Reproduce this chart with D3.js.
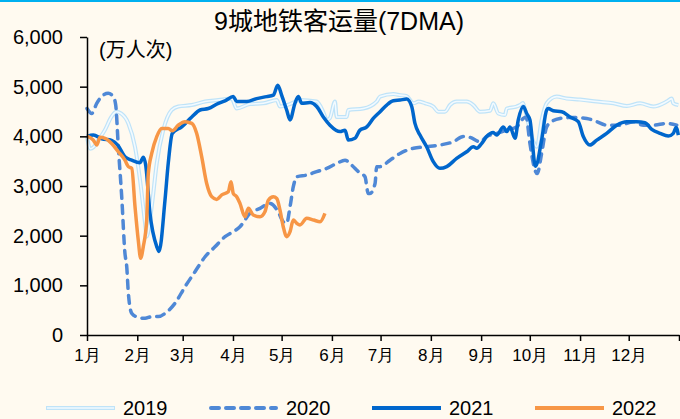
<!DOCTYPE html>
<html><head><meta charset="utf-8">
<script src="https://cdn.jsdelivr.net/npm/d3@7"></script>
<style>
html,body{margin:0;padding:0;background:#fffaf0;}
svg{display:block;font-family:"Liberation Sans",Arial,"Noto Sans CJK SC",sans-serif;}
</style></head>
<body><svg id="c" width="680" height="419"></svg>
<script>
// ---- data (day of year offset from Jan 1, value in 万人次) ----
const monthLabels = ["1月","2月","3月","4月","5月","6月","7月","8月","9月","10月","11月","12月"];
const monthStarts = [0,31,59,90,120,151,181,212,243,273,304,334,365];
const yTicks = [0,1000,2000,3000,4000,5000,6000];
const seriesNames = ["2019","2020","2021","2022"];

const days2019 = [0,2,4,7,11,15,18,21,25.5,29.6,32.7,35.8,36.8,39.9,43,47,52.2,56.3,64.6,72.8,81,89.2,92.3,100.5,108.7,117,119,125.2,131.3,141.6,145.7,147.8,149.8,152.9,153.9,160.1,161.1,170.4,178.6,180.7,188.9,193,197.1,201.3,204.4,208.4,213.5,216.6,220.7,223.8,227.9,234.1,238.2,242.3,248.5,250.5,253.6,257.7,258.8,264.9,267,268.8,270.1,275.2,277.3,280.3,283.4,289.6,295.7,304,314.3,324.5,332.8,341,349.2,357.4,360.5,361.5,364.6];
const vals2019 = [4000,3750,3780,3925,4125,4390,4495,4460,4260,3790,3120,2250,1980,2585,3455,4125,4530,4600,4630,4700,4730,4760,4560,4650,4665,4730,4600,4650,4730,4700,4490,4330,4370,4700,4390,4390,4530,4560,4700,4800,4850,4830,4810,4665,4700,4665,4600,4495,4495,4630,4700,4700,4630,4495,4515,4665,4460,4430,4560,4600,4630,4670,4530,3895,3790,4330,4665,4800,4760,4740,4700,4665,4610,4665,4600,4700,4760,4665,4630];

const days2020 = [0,2.9,6,10,13.1,16.2,17.7,19.3,21.4,23.4,24.5,25.5,27.6,31.6,35.8,39.9,44,48.1,54.3,60.4,66.6,72.8,78.9,85.1,90.2,94.3,100.5,106.7,112.8,117.9,121,123.1,125.2,127.2,129.3,135.5,141.6,147.8,154,159.1,163.2,167.3,171.4,173.4,174.5,177.6,178.6,180.7,186.8,193,201.3,209.4,217.6,225.8,232,236.1,242.3,246.4,252.6,258.8,264.9,269,270.7,273.1,276.2,277.6,280.3,283.4,286.5,291.6,299.8,308.1,314.3,320.4,328.6,336.8,343,349.2,357.4,363.6];
const vals2020 = [4560,4460,4665,4830,4865,4800,4630,3790,2785,1645,1375,840,435,355,335,370,370,435,640,970,1275,1575,1775,1980,2080,2180,2450,2550,2650,2480,2280,2250,2585,2985,3185,3220,3290,3355,3455,3520,3420,3290,3185,2850,2850,3050,3390,3390,3520,3655,3760,3790,3825,3890,3995,3980,3890,3995,4060,4125,4190,4360,4390,3855,3320,3250,3655,4190,4295,4360,4380,4360,4295,4225,4225,4295,4225,4225,4260,4225];

const days2021 = [0,3.9,9.1,15.2,19.1,23.4,27.6,32.7,34.7,36.2,38.8,43,44.4,48.1,50.1,52.6,58.4,64.6,69.7,74.8,81,85.1,90.2,92.3,98.5,104.6,110.8,114.9,117.6,120,123.1,125.2,128.2,130.3,132.4,137.5,141.6,145.7,149.8,156,159.1,161.1,165.2,168.3,172.5,176.5,180.7,184.8,188.9,193,197.1,200.2,202.2,205.3,209.4,213.5,217.6,221.8,227.9,234.1,238.2,240.3,243.4,246.4,250.5,252.6,256.7,258.8,260.8,263.9,265.9,269,271.1,273.1,276.5,280.3,283.4,284.4,287.5,292.7,297.8,302.9,306,310.1,314.3,320.4,326.6,332.8,338.9,344,348.2,353.3,358.4,361.5,363.2,364.6];
const vals2021 = [4000,4025,3950,3920,3820,3590,3520,3470,3580,3420,2455,1780,1680,2720,3460,4060,4190,4390,4530,4560,4665,4715,4800,4700,4700,4760,4800,4830,5030,4830,4530,4330,4665,4800,4665,4680,4600,4390,4225,4095,4125,3925,3960,4125,4190,4360,4495,4630,4715,4730,4750,4600,4260,4025,3790,3490,3355,3390,3555,3690,3790,3760,3860,3995,4075,4025,4190,4095,4190,3960,4330,4600,4460,4330,3400,3925,4530,4560,4515,4495,4390,4295,3995,3825,3925,4060,4225,4295,4295,4275,4140,4060,4005,4060,4180,4025];

const days2022 = [0,3.9,6,8,11.1,15.2,19.3,23.4,25.5,27.6,29.6,31.6,33.1,34.7,36.8,37.8,39.9,43,46.1,50.1,52.6,56.3,60.4,64.6,67.6,70.7,73.8,76.9,80,83.1,87.1,88.8,90.2,92.3,94.3,97.4,99.5,102.5,106.7,109.7,111.8,114.9,117,119,121,123.1,125.2,127.2,129.3,131.3,135.5,139.7,143.7,146.7];
const vals2022 = [4005,3925,3825,3980,3960,3855,3690,3520,3390,3355,2585,1910,1545,1780,2315,3250,3655,3995,4160,4160,4110,4225,4295,4260,4060,3590,3050,2785,2730,2820,2885,3085,2850,2785,2650,2380,2550,2415,2380,2480,2715,2785,2750,2515,2180,1980,2080,2315,2250,2215,2350,2315,2280,2450];

// ---- layout ----
const svg = d3.select("#c");
const W = 680, H = 419;
const m = {left:87, right:1, top:37, bottom:84};
const x = d3.scaleLinear().domain([0,365]).range([m.left, W - m.right]);
const y = d3.scaleLinear().domain([0,6000]).range([H - m.bottom, m.top]);

svg.append("rect").attr("width",W).attr("height",H).attr("fill","#fffaf0");
svg.append("rect").attr("x",0).attr("y",0).attr("width",W).attr("height",2).attr("fill","#00b0f0");

// title
svg.append("text").attr("x",339).attr("y",30).attr("text-anchor","middle")
  .attr("font-size",25).attr("fill","#000").text("9城地铁客运量(7DMA)");
svg.append("text").attr("x",99).attr("y",57).attr("font-size",20).attr("fill","#000").text("(万人次)");

const line = d3.line().x(d=>x(d[0])).y(d=>y(d[1])).curve(d3.curveMonotoneX);
const zip = (a,b)=>a.map((d,i)=>[d,b[i]]);

const g = svg.append("g");
// 2019: double light line
g.append("path").datum(zip(days2019,vals2019)).attr("d",line)
  .attr("fill","none").attr("stroke","#bfe3f8").attr("stroke-width",4).attr("stroke-linejoin","round");
g.append("path").datum(zip(days2019,vals2019)).attr("d",line)
  .attr("fill","none").attr("stroke","#f2faff").attr("stroke-width",1.6).attr("stroke-linejoin","round");
// 2020 dashed
g.append("path").datum(zip(days2020,vals2020)).attr("d",line)
  .attr("fill","none").attr("stroke","#4f88d6").attr("stroke-width",3.5)
  .attr("stroke-dasharray","8,7").attr("stroke-linecap","round").attr("stroke-linejoin","round");
// 2021
g.append("path").datum(zip(days2021,vals2021)).attr("d",line)
  .attr("fill","none").attr("stroke","#0066cc").attr("stroke-width",3.5).attr("stroke-linejoin","round");
// 2022
g.append("path").datum(zip(days2022,vals2022)).attr("d",line)
  .attr("fill","none").attr("stroke","#f79646").attr("stroke-width",3.5).attr("stroke-linejoin","round");

// axes
const yAxis = svg.append("g").attr("transform",`translate(${m.left},0)`)
  .call(d3.axisLeft(y).tickValues(yTicks).tickFormat(d3.format(",")).tickSize(7).tickSizeOuter(0).tickPadding(17));
yAxis.selectAll("text").attr("font-size",20).attr("fill","#000").attr("font-family","Liberation Sans, Arial, sans-serif");
yAxis.selectAll("line,path").attr("stroke","#000").attr("stroke-width",1.5);

const xAxis = svg.append("g").attr("transform",`translate(0,${y(0)})`)
  .call(d3.axisBottom(x).tickValues(monthStarts).tickFormat((d,i)=> i<12 ? monthLabels[i] : "").tickSize(6).tickSizeOuter(0).tickPadding(8));
xAxis.selectAll("text").attr("font-size",17).attr("fill","#000");
xAxis.selectAll("line,path").attr("stroke","#000").attr("stroke-width",1.5);

// legend
const leg = svg.append("g");
const legX = [46,209,372,535];
const ly = 408;
seriesNames.forEach((n,i)=>{
  const x0 = legX[i], x1 = x0 + 69;
  if (i===0){
    leg.append("line").attr("x1",x0).attr("x2",x1).attr("y1",ly).attr("y2",ly).attr("stroke","#bfe3f8").attr("stroke-width",4);
    leg.append("line").attr("x1",x0+1).attr("x2",x1-1).attr("y1",ly).attr("y2",ly).attr("stroke","#f2faff").attr("stroke-width",1.6);
  } else if (i===1){
    leg.append("line").attr("x1",x0+2).attr("x2",x1-2).attr("y1",ly).attr("y2",ly).attr("stroke","#4f88d6").attr("stroke-width",4)
      .attr("stroke-dasharray","8,7").attr("stroke-linecap","round");
  } else {
    leg.append("line").attr("x1",x0).attr("x2",x1).attr("y1",ly).attr("y2",ly)
      .attr("stroke", i===2 ? "#0066cc" : "#f79646").attr("stroke-width",4);
  }
  leg.append("text").attr("x",x1+8).attr("y",ly+7).attr("font-size",20).attr("fill","#000").text(n);
});
</script></body></html>
